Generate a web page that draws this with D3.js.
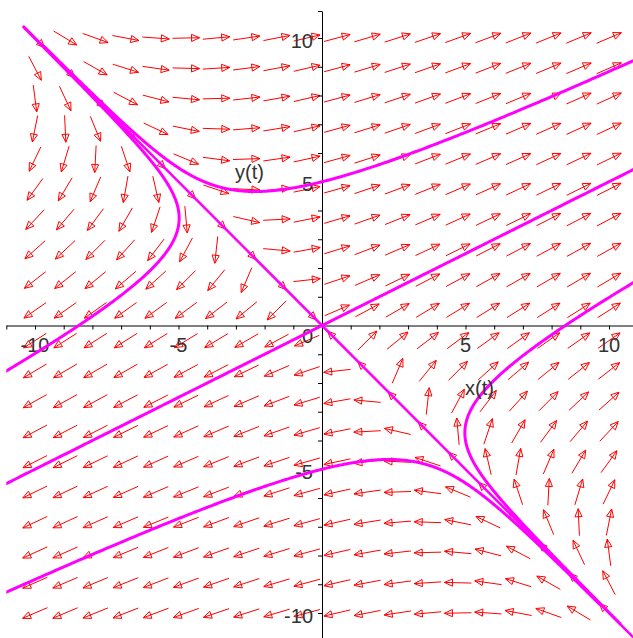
<!DOCTYPE html>
<html>
<head>
<meta charset="utf-8">
<script src="https://cdn.jsdelivr.net/npm/d3@7"></script>
<style>
  html, body { margin: 0; padding: 0; background: #fff; }
  svg { display: block; }
  text { font-family: "Liberation Sans", Arial, sans-serif; font-size: 20px; fill: #333; }
</style>
</head>
<body>
<svg id="chart" width="633" height="638"></svg>
<script>
// Linear system  x' = 3x + 4y,  y' = 2x + y  (saddle, eigen-directions y=-x and y=x/2)
const systemRowX = [3, 4];
const systemRowY = [2, 1];

// Direction field grid (20 x 20 arrows from -10 to 10)
const gridX = d3.range(20).map(k => -10 + k * 20 / 19);
const gridY = d3.range(20).map(k => -10 + k * 20 / 19);

// Solution curves: initial conditions and time span
const initX = [0, 0, -5, 5, 2, -2];
const initY = [5, -5, 4, -4, 1, -1];
const tFrom = [-1.07, -1.07, -0.875, -0.875, -12, -12];
const tTo = [1, 1, 1, 1, 1, 1];

// The stable direction line y = -x
const stableX = [-10.42, 11.6];
const stableY = [10.42, -11.6];

// Axis tick labels
const xTickLabels = [-10, -5, 5, 10];
const yTickLabels = [-10, -5, 5, 10];
const xTicks = d3.range(-11, 12);
const yTicks = d3.range(-11, 11).concat([10.94]);

const svg = d3.select('#chart');

const x = d3.scaleLinear().domain([-10, 10]).range([35, 609]);
const y = d3.scaleLinear().domain([-10, 10]).range([613, 38]);

function field(px, py) {
    return [
        systemRowX[0] * px + systemRowX[1] * py,
        systemRowY[0] * px + systemRowY[1] * py
    ];
}

// RK4 integration of one solution curve, forward and backward from the start point
function solve(x0, y0, t0, t1) {
    const dt = 0.002;
    const limit = 11.8;
    function run(step, tEnd) {
        const pts = [];
        let p = [x0, y0];
        let t = 0;
        while (Math.abs(t) < Math.abs(tEnd)) {
            const k1 = field(p[0], p[1]);
            const k2 = field(p[0] + step / 2 * k1[0], p[1] + step / 2 * k1[1]);
            const k3 = field(p[0] + step / 2 * k2[0], p[1] + step / 2 * k2[1]);
            const k4 = field(p[0] + step * k3[0], p[1] + step * k3[1]);
            p = [
                p[0] + step / 6 * (k1[0] + 2 * k2[0] + 2 * k3[0] + k4[0]),
                p[1] + step / 6 * (k1[1] + 2 * k2[1] + 2 * k3[1] + k4[1])
            ];
            t += step;
            pts.push(p);
            if (Math.abs(p[0]) > limit || Math.abs(p[1]) > limit) break;
        }
        return pts;
    }
    const back = run(-dt, t0).reverse();
    const fwd = run(dt, t1);
    return back.concat([[x0, y0]], fwd);
}

// Clip to the plotting window
svg.append('defs').append('clipPath')
    .attr('id', 'win')
    .append('rect')
    .attr('x', x(-11))
    .attr('y', y(10.94))
    .attr('width', x(11) - x(-11))
    .attr('height', y(-11) - y(10.94));

// Direction field arrows
const arrowLen = 27;
const headLen = 8;
const headHalf = 3.6;
const arrows = [];
gridX.forEach(gx => {
    gridY.forEach(gy => {
        const v = field(gx, gy);
        const dx = v[0] * (x(1) - x(0));
        const dy = v[1] * (y(1) - y(0));
        const n = Math.hypot(dx, dy) || 1;
        arrows.push({ cx: x(gx), cy: y(gy), ux: dx / n, uy: dy / n });
    });
});

const arrowG = svg.append('g')
    .attr('stroke', '#ff0000')
    .attr('stroke-width', 1)
    .attr('fill', 'none');

arrowG.selectAll('line')
    .data(arrows)
    .join('line')
    .attr('x1', d => d.cx - d.ux * arrowLen / 2)
    .attr('y1', d => d.cy - d.uy * arrowLen / 2)
    .attr('x2', d => d.cx + d.ux * arrowLen / 2)
    .attr('y2', d => d.cy + d.uy * arrowLen / 2);

arrowG.selectAll('polygon')
    .data(arrows)
    .join('polygon')
    .attr('points', d => {
        const tx = d.cx + d.ux * arrowLen / 2;
        const ty = d.cy + d.uy * arrowLen / 2;
        const bx = tx - d.ux * headLen;
        const by = ty - d.uy * headLen;
        return [
            [tx, ty],
            [bx - d.uy * headHalf, by + d.ux * headHalf],
            [bx + d.uy * headHalf, by - d.ux * headHalf]
        ].map(p => p.join(',')).join(' ');
    });

// Axes through the origin
const xAxisScale = x.copy().domain([-11, 11]).range([x(-11), x(11)]);
const yAxisScale = y.copy().domain([-11, 10.94]).range([y(-11), y(10.94)]);

const xAxis = svg.append('g')
    .attr('transform', `translate(0,${y(0)})`)
    .call(d3.axisBottom(xAxisScale).tickValues(xTicks).tickSize(4).tickSizeOuter(0).tickFormat(''));

const yAxis = svg.append('g')
    .attr('transform', `translate(${x(0)},0)`)
    .call(d3.axisLeft(yAxisScale).tickValues(yTicks).tickSize(4).tickSizeOuter(0).tickFormat(''));

[xAxis, yAxis].forEach(g => {
    g.selectAll('path, line').attr('stroke', '#000').attr('stroke-width', 1);
});

svg.selectAll('text.xlab')
    .data(xTickLabels)
    .join('text')
    .attr('class', 'xlab')
    .attr('x', d => x(d))
    .attr('y', y(0) + 26.5)
    .attr('text-anchor', 'middle')
    .text(d => d);

svg.selectAll('text.ylab')
    .data(yTickLabels)
    .join('text')
    .attr('class', 'ylab')
    .attr('x', x(0) - 9)
    .attr('y', d => y(d) + 9.5)
    .attr('text-anchor', 'end')
    .text(d => d);

svg.append('text')
    .attr('x', x(0) - 14.5)
    .attr('y', y(0) + 17.5)
    .attr('text-anchor', 'middle')
    .text('0');

// Solution curves
const line = d3.line().x(d => x(d[0])).y(d => y(d[1]));
const curves = svg.append('g').attr('clip-path', 'url(#win)');

curves.append('path')
    .datum(stableX.map((v, i) => [v, stableY[i]]))
    .attr('d', line)
    .attr('fill', 'none')
    .attr('stroke', '#ff00ff')
    .attr('stroke-width', 2.5);

initX.forEach((x0, i) => {
    curves.append('path')
        .datum(solve(x0, initY[i], tFrom[i], tTo[i]))
        .attr('d', line)
        .attr('fill', 'none')
        .attr('stroke', '#ff00ff')
        .attr('stroke-width', 3)
        .attr('stroke-linejoin', 'round');
});

// Axis names placed as in the original
svg.append('text').attr('x', 465).attr('y', 394.5).text('x(t)');
svg.append('text').attr('x', 235).attr('y', 179).text('y(t)');
</script>
</body>
</html>
